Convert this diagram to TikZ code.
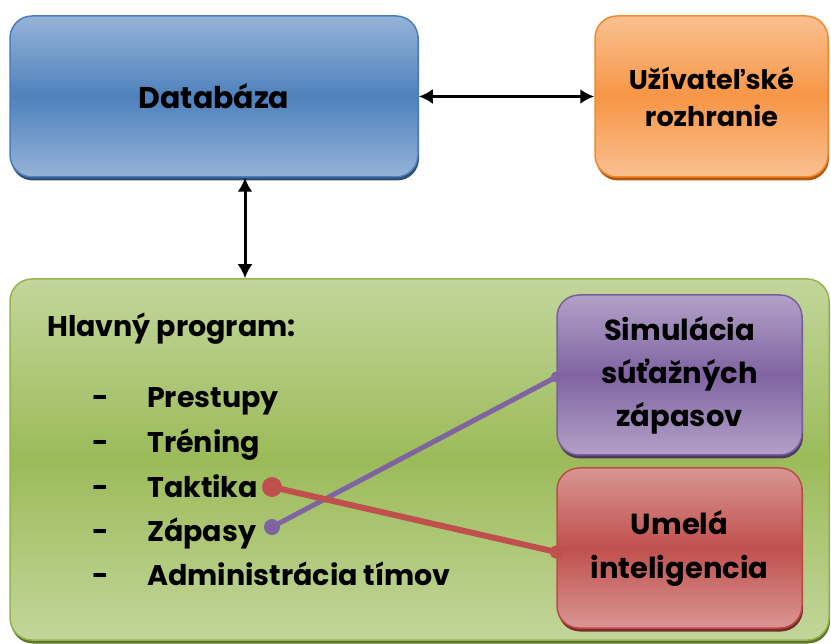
\documentclass[tikz,border=0pt]{standalone}
\usepackage{fontspec}
\setmainfont{Poppins}
\usetikzlibrary{arrows.meta,shadows}

\definecolor{DbLight}{HTML}{95B3D7}
\definecolor{DbDark}{HTML}{4F81BD}
\definecolor{DbEdge}{HTML}{4A7EBB}
\definecolor{DbShade}{HTML}{2C4D75}
\definecolor{UiLight}{HTML}{FAC090}
\definecolor{UiDark}{HTML}{F79646}
\definecolor{UiEdge}{HTML}{F08A32}
\definecolor{UiShade}{HTML}{B65708}
\definecolor{MainLight}{HTML}{C3D69B}
\definecolor{MainDark}{HTML}{9BBB59}
\definecolor{MainEdge}{HTML}{93B550}
\definecolor{MainShade}{HTML}{5F7530}
\definecolor{SimLight}{HTML}{B2A1C7}
\definecolor{SimDark}{HTML}{8064A2}
\definecolor{SimEdge}{HTML}{7A5E9E}
\definecolor{SimShade}{HTML}{4D3B62}
\definecolor{AiLight}{HTML}{D99694}
\definecolor{AiDark}{HTML}{C0504D}
\definecolor{AiEdge}{HTML}{BE4B48}
\definecolor{AiShade}{HTML}{772C2A}

\begin{document}
\begin{tikzpicture}[x=1pt, y=-1pt,
    block/.style={draw, line width=1.5pt, rounded corners=22pt, align=center,
        font=\bfseries\fontsize{30}{44}\selectfont},
    shaded/.style n args={4}{top color=#1, bottom color=#1, middle color=#2, draw=#3,
        drop shadow={shadow xshift=1pt, shadow yshift=-3.5pt, fill=#4, opacity=1}},
    item/.style={font=\bfseries\fontsize{28.5}{35}\selectfont, inner sep=0pt},
    link/.style={<->, >={Latex[length=14pt,width=15pt]}, line width=3pt, black},
    tie/.style={line width=#1, line cap=round}
]
    \useasboundingbox (0,0) rectangle (831,644);

    % Top row
    \node[block, shaded={DbLight}{DbDark}{DbEdge}{DbShade}, minimum width=408pt, minimum height=161pt]
        (db) at (214,96.5) {Databáza};
    \node[block, shaded={UiLight}{UiDark}{UiEdge}{UiShade}, minimum width=233pt, minimum height=161pt,
        font=\bfseries\fontsize{27}{37}\selectfont] (ui) at (711.5,96.5) {Užívateľské\\rozhranie};

    % Main program
    \node[block, shaded={MainLight}{MainDark}{MainEdge}{MainShade}, minimum width=819pt, minimum height=361pt]
        (main) at (419.5,459.5) {};
    \node[block, shaded={SimLight}{SimDark}{SimEdge}{SimShade}, minimum width=245pt, minimum height=160pt,
        font=\bfseries\fontsize{29}{43}\selectfont] (sim) at (679.5,375) {Simulácia\\súťažných\\zápasov};
    \node[block, shaded={AiLight}{AiDark}{AiEdge}{AiShade}, minimum width=245pt, minimum height=160pt,
        font=\bfseries\fontsize{29}{44}\selectfont] (ai) at (679.5,548) {Umelá\\inteligencia};

    \node[item, anchor=base west] (title) at (47,337) {Hlavný program:};

    \node[item, anchor=base] (d1) at (101,408) {-};
    \node[item, anchor=base] (d2) at (101,453) {-};
    \node[item, anchor=base] (d3) at (101,498) {-};
    \node[item, anchor=base] (d4) at (101,542) {-};
    \node[item, anchor=base] (d5) at (101,585) {-};
    \node[item, anchor=base west] (prestupy) at (147,408) {Prestupy};
    \node[item, anchor=base west] (trening) at (147,453) {Tréning};
    \node[item, anchor=base west] (taktika) at (147,498) {Taktika};
    \node[item, anchor=base west] (zapasy) at (147,542) {Zápasy};
    \node[item, anchor=base west] (admin) at (147,585) {Administrácia tímov};

    % Arrows between blocks
    \draw[link] (db.east) -- (ui.west);
    \draw[link] ([xshift=31pt]db.south) -- ([xshift=-174.5pt]main.north);

    % Links to the modules
    \coordinate (taktikaPin) at (272,487);
    \coordinate (zapasyPin) at (272,527);
    \draw[tie=5pt, SimDark] (zapasyPin) -- ([yshift=-2pt]sim.west);
    \fill[SimDark] (zapasyPin) circle (8pt) ([yshift=-2pt]sim.west) circle (5.5pt);
    \draw[tie=6pt, AiDark] (taktikaPin) -- ([yshift=-4pt]ai.west);
    \fill[AiDark] (taktikaPin) circle (10pt) ([yshift=-4pt]ai.west) circle (6.5pt);
\end{tikzpicture}
\end{document}
